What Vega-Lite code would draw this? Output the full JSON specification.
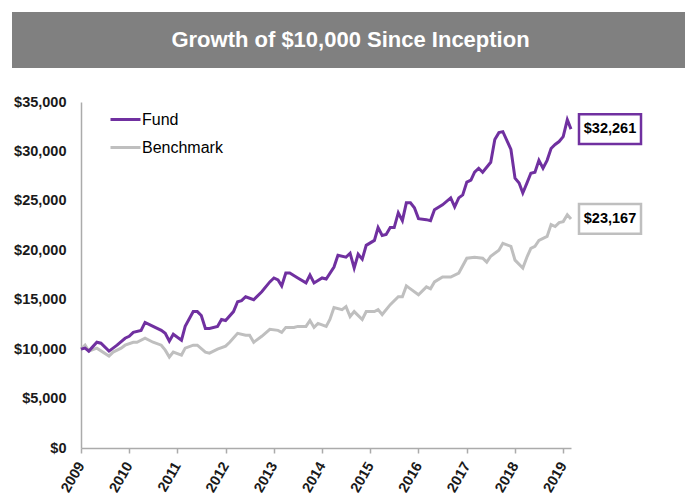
{
  "$schema": "https://vega.github.io/schema/vega-lite/v6.json",
  "padding": {"left": 12, "top": 12, "right": 0, "bottom": 0},
  "spacing": 26,
  "background": "white",
  "config": {"view": {"stroke": null}, "font": "Liberation Sans"},
  "resolve": {"scale": {"color": "independent", "stroke": "independent"}, "legend": {"color": "independent", "stroke": "independent"}},
  "vconcat": [
    {
      "width": 673,
      "height": 56,
      "view": {"fill": "#808080", "stroke": null},
      "data": {"values": [{"t": "Growth of $10,000 Since Inception"}]},
      "mark": {"type": "text", "font": "Liberation Sans", "fontWeight": "bold", "fontSize": 22, "color": "white", "align": "center", "baseline": "middle", "xOffset": 2},
      "encoding": {"text": {"field": "t", "type": "nominal"}}
    },
    {
      "spacing": 0,
      "resolve": {"scale": {"color": "independent", "stroke": "independent", "x": "independent", "y": "independent"}, "legend": {"color": "independent", "stroke": "independent"}},
      "hconcat": [
        {
          "width": 1,
          "height": 1,
          "data": {"values": []},
          "mark": "rect"
        },
        {
          "width": 490,
          "height": 346,
          "data": {
            "format": {"parse": {"d": "date"}},
            "values": [
              {"s":"Benchmark","d":"2009-01-01","v":10000},{"s":"Benchmark","d":"2009-02-01","v":10400},{"s":"Benchmark","d":"2009-03-01","v":9800},{"s":"Benchmark","d":"2009-05-01","v":10100},{"s":"Benchmark","d":"2009-08-01","v":9300},{"s":"Benchmark","d":"2009-09-01","v":9700},{"s":"Benchmark","d":"2009-11-01","v":10100},{"s":"Benchmark","d":"2009-12-01","v":10400},
              {"s":"Benchmark","d":"2010-02-01","v":10700},{"s":"Benchmark","d":"2010-03-01","v":10700},{"s":"Benchmark","d":"2010-05-01","v":11100},{"s":"Benchmark","d":"2010-07-01","v":10700},{"s":"Benchmark","d":"2010-09-01","v":10400},{"s":"Benchmark","d":"2010-10-01","v":9900},{"s":"Benchmark","d":"2010-11-01","v":9200},{"s":"Benchmark","d":"2010-12-01","v":9700},
              {"s":"Benchmark","d":"2011-02-01","v":9400},{"s":"Benchmark","d":"2011-03-01","v":10100},{"s":"Benchmark","d":"2011-05-01","v":10400},{"s":"Benchmark","d":"2011-06-01","v":10400},{"s":"Benchmark","d":"2011-08-01","v":9700},{"s":"Benchmark","d":"2011-09-01","v":9600},{"s":"Benchmark","d":"2011-11-01","v":10000},
              {"s":"Benchmark","d":"2012-01-01","v":10300},{"s":"Benchmark","d":"2012-02-01","v":10700},{"s":"Benchmark","d":"2012-04-01","v":11600},{"s":"Benchmark","d":"2012-06-01","v":11400},{"s":"Benchmark","d":"2012-07-01","v":11400},{"s":"Benchmark","d":"2012-08-01","v":10700},{"s":"Benchmark","d":"2012-10-01","v":11300},{"s":"Benchmark","d":"2012-12-01","v":12000},
              {"s":"Benchmark","d":"2013-02-01","v":11900},{"s":"Benchmark","d":"2013-03-01","v":11700},{"s":"Benchmark","d":"2013-04-01","v":12200},{"s":"Benchmark","d":"2013-06-01","v":12200},{"s":"Benchmark","d":"2013-07-01","v":12300},{"s":"Benchmark","d":"2013-09-01","v":12300},{"s":"Benchmark","d":"2013-10-01","v":12900},{"s":"Benchmark","d":"2013-11-01","v":12200},{"s":"Benchmark","d":"2013-12-01","v":12600},
              {"s":"Benchmark","d":"2014-02-01","v":12300},{"s":"Benchmark","d":"2014-03-01","v":13000},{"s":"Benchmark","d":"2014-04-01","v":14200},{"s":"Benchmark","d":"2014-06-01","v":14000},{"s":"Benchmark","d":"2014-07-01","v":14300},{"s":"Benchmark","d":"2014-08-01","v":13300},{"s":"Benchmark","d":"2014-09-01","v":13800},{"s":"Benchmark","d":"2014-11-01","v":13000},{"s":"Benchmark","d":"2014-12-01","v":13800},
              {"s":"Benchmark","d":"2015-02-01","v":13800},{"s":"Benchmark","d":"2015-03-01","v":14000},{"s":"Benchmark","d":"2015-04-01","v":13500},{"s":"Benchmark","d":"2015-06-01","v":14500},{"s":"Benchmark","d":"2015-08-01","v":15300},{"s":"Benchmark","d":"2015-09-01","v":15300},{"s":"Benchmark","d":"2015-10-01","v":16400},{"s":"Benchmark","d":"2015-11-01","v":16100},
              {"s":"Benchmark","d":"2016-01-01","v":15500},{"s":"Benchmark","d":"2016-03-01","v":16300},{"s":"Benchmark","d":"2016-04-01","v":16100},{"s":"Benchmark","d":"2016-05-01","v":16800},{"s":"Benchmark","d":"2016-07-01","v":17300},{"s":"Benchmark","d":"2016-09-01","v":17300},{"s":"Benchmark","d":"2016-11-01","v":17700},
              {"s":"Benchmark","d":"2017-01-01","v":19200},{"s":"Benchmark","d":"2017-03-01","v":19300},{"s":"Benchmark","d":"2017-05-01","v":19200},{"s":"Benchmark","d":"2017-06-01","v":18800},{"s":"Benchmark","d":"2017-07-01","v":19400},{"s":"Benchmark","d":"2017-09-01","v":20000},{"s":"Benchmark","d":"2017-10-01","v":20700},{"s":"Benchmark","d":"2017-12-01","v":20400},
              {"s":"Benchmark","d":"2018-01-01","v":19000},{"s":"Benchmark","d":"2018-03-01","v":18200},{"s":"Benchmark","d":"2018-04-01","v":19300},{"s":"Benchmark","d":"2018-05-01","v":20200},{"s":"Benchmark","d":"2018-06-01","v":20400},{"s":"Benchmark","d":"2018-07-01","v":21000},{"s":"Benchmark","d":"2018-09-01","v":21400},{"s":"Benchmark","d":"2018-10-01","v":22600},{"s":"Benchmark","d":"2018-11-01","v":22400},{"s":"Benchmark","d":"2018-12-01","v":22800},
              {"s":"Benchmark","d":"2019-01-01","v":22900},{"s":"Benchmark","d":"2019-02-01","v":23600},{"s":"Benchmark","d":"2019-03-01","v":23167},
              {"s":"Fund","d":"2009-01-01","v":10000},{"s":"Fund","d":"2009-02-01","v":10100},{"s":"Fund","d":"2009-03-01","v":9800},{"s":"Fund","d":"2009-05-01","v":10700},{"s":"Fund","d":"2009-06-01","v":10600},{"s":"Fund","d":"2009-08-01","v":9800},{"s":"Fund","d":"2009-09-01","v":10100},{"s":"Fund","d":"2009-10-01","v":10400},{"s":"Fund","d":"2009-12-01","v":11100},
              {"s":"Fund","d":"2010-01-01","v":11300},{"s":"Fund","d":"2010-02-01","v":11700},{"s":"Fund","d":"2010-04-01","v":11900},{"s":"Fund","d":"2010-05-01","v":12700},{"s":"Fund","d":"2010-07-01","v":12300},{"s":"Fund","d":"2010-09-01","v":11900},{"s":"Fund","d":"2010-10-01","v":11600},{"s":"Fund","d":"2010-11-01","v":10800},{"s":"Fund","d":"2010-12-01","v":11500},
              {"s":"Fund","d":"2011-02-01","v":10900},{"s":"Fund","d":"2011-03-01","v":12300},{"s":"Fund","d":"2011-05-01","v":13800},{"s":"Fund","d":"2011-06-01","v":13800},{"s":"Fund","d":"2011-07-01","v":13400},{"s":"Fund","d":"2011-08-01","v":12100},{"s":"Fund","d":"2011-09-01","v":12100},{"s":"Fund","d":"2011-11-01","v":12300},{"s":"Fund","d":"2011-12-01","v":13000},
              {"s":"Fund","d":"2012-01-01","v":12900},{"s":"Fund","d":"2012-03-01","v":13800},{"s":"Fund","d":"2012-04-01","v":14800},{"s":"Fund","d":"2012-05-01","v":14900},{"s":"Fund","d":"2012-06-01","v":15300},{"s":"Fund","d":"2012-08-01","v":15000},{"s":"Fund","d":"2012-10-01","v":15800},{"s":"Fund","d":"2012-12-01","v":16800},
              {"s":"Fund","d":"2013-01-01","v":17200},{"s":"Fund","d":"2013-02-01","v":17000},{"s":"Fund","d":"2013-03-01","v":16400},{"s":"Fund","d":"2013-04-01","v":17700},{"s":"Fund","d":"2013-05-01","v":17700},{"s":"Fund","d":"2013-07-01","v":17200},{"s":"Fund","d":"2013-09-01","v":16700},{"s":"Fund","d":"2013-10-01","v":17500},{"s":"Fund","d":"2013-11-01","v":16700},
              {"s":"Fund","d":"2014-01-01","v":17200},{"s":"Fund","d":"2014-02-01","v":17100},{"s":"Fund","d":"2014-04-01","v":18300},{"s":"Fund","d":"2014-05-01","v":19500},{"s":"Fund","d":"2014-07-01","v":19300},{"s":"Fund","d":"2014-08-01","v":19700},{"s":"Fund","d":"2014-09-01","v":18200},{"s":"Fund","d":"2014-10-01","v":19600},{"s":"Fund","d":"2014-11-01","v":19100},{"s":"Fund","d":"2014-12-01","v":20500},
              {"s":"Fund","d":"2015-02-01","v":21000},{"s":"Fund","d":"2015-03-01","v":22300},{"s":"Fund","d":"2015-04-01","v":21500},{"s":"Fund","d":"2015-05-01","v":21600},{"s":"Fund","d":"2015-06-01","v":22300},{"s":"Fund","d":"2015-07-01","v":22300},{"s":"Fund","d":"2015-08-01","v":23800},{"s":"Fund","d":"2015-09-01","v":23000},{"s":"Fund","d":"2015-10-01","v":24800},{"s":"Fund","d":"2015-11-01","v":24800},{"s":"Fund","d":"2015-12-01","v":24300},
              {"s":"Fund","d":"2016-01-01","v":23200},{"s":"Fund","d":"2016-03-01","v":23100},{"s":"Fund","d":"2016-04-01","v":23000},{"s":"Fund","d":"2016-05-01","v":24100},{"s":"Fund","d":"2016-07-01","v":24600},{"s":"Fund","d":"2016-09-01","v":25300},{"s":"Fund","d":"2016-10-01","v":24400},{"s":"Fund","d":"2016-11-01","v":25300},{"s":"Fund","d":"2016-12-01","v":25600},
              {"s":"Fund","d":"2017-01-01","v":26900},{"s":"Fund","d":"2017-02-01","v":27100},{"s":"Fund","d":"2017-03-01","v":27900},{"s":"Fund","d":"2017-04-01","v":28300},{"s":"Fund","d":"2017-05-01","v":27900},{"s":"Fund","d":"2017-07-01","v":28900},{"s":"Fund","d":"2017-08-01","v":31200},{"s":"Fund","d":"2017-09-01","v":31900},{"s":"Fund","d":"2017-10-01","v":32000},{"s":"Fund","d":"2017-12-01","v":30200},
              {"s":"Fund","d":"2018-01-01","v":27300},{"s":"Fund","d":"2018-02-01","v":26800},{"s":"Fund","d":"2018-03-01","v":25800},{"s":"Fund","d":"2018-04-01","v":26800},{"s":"Fund","d":"2018-05-01","v":27800},{"s":"Fund","d":"2018-06-01","v":27900},{"s":"Fund","d":"2018-07-01","v":29100},{"s":"Fund","d":"2018-08-01","v":28300},{"s":"Fund","d":"2018-09-01","v":29100},{"s":"Fund","d":"2018-10-01","v":30300},{"s":"Fund","d":"2018-11-01","v":30700},{"s":"Fund","d":"2018-12-01","v":31000},
              {"s":"Fund","d":"2019-01-01","v":31500},{"s":"Fund","d":"2019-02-01","v":33200},{"s":"Fund","d":"2019-03-01","v":32261}
            ]
          },
          "encoding": {
            "x": {
              "field": "d", "type": "temporal",
              "scale": {"domain": [{"year": 2009, "month": 1, "date": 1}, {"year": 2019, "month": 3, "date": 1}]},
              "axis": {
                "title": null, "grid": false, "format": "%Y",
                "tickCount": {"interval": "year", "step": 1},
                "tickSize": 5, "tickColor": "#ABABAB", "domainColor": "#ABABAB", "domainWidth": 1.5, "tickWidth": 1.5,
                "labelAngle": -60, "labelAlign": "right", "labelBaseline": "middle",
                "labelFont": "Liberation Sans", "labelFontSize": 14.5, "labelFontWeight": "bold", "labelColor": "#1a1a1a",
                "labelPadding": 10, "labelOverlap": false, "labelFlush": false
              }
            },
            "y": {
              "field": "v", "type": "quantitative",
              "scale": {"domain": [0, 35000]},
              "axis": {
                "title": null, "grid": false, "format": "$,.0f",
                "values": [0, 5000, 10000, 15000, 20000, 25000, 30000, 35000],
                "ticks": false, "tickSize": 0, "domainColor": "#ABABAB", "domainWidth": 1.5,
                "labelFont": "Liberation Sans", "labelFontSize": 14.5, "labelFontWeight": "bold", "labelColor": "#1a1a1a",
                "labelPadding": 15, "minExtent": 66, "maxExtent": 66
              }
            }
          },
          "layer": [
            {
              "mark": {"type": "line", "strokeWidth": 3},
              "encoding": {
                "color": {
                  "field": "s", "type": "nominal",
                  "scale": {"domain": ["Fund", "Benchmark"], "range": ["#7030A0", "#BFBFBF"]},
                  "legend": {
                    "title": null, "orient": "none", "legendX": 33, "legendY": 6,
                    "symbolType": "M-1.5,0H1.5", "symbolSize": 400, "symbolStrokeWidth": 3,
                    "labelFont": "Liberation Sans", "labelFontSize": 16, "labelColor": "#000000",
                    "labelOffset": 5, "rowPadding": 8
                  }
                }
              }
            },
            {
              "transform": [
                {"joinaggregate": [{"op": "max", "field": "d", "as": "last"}], "groupby": ["s"]},
                {"filter": "time(datum.d) == time(datum.last)"}
              ],
              "mark": {"type": "point", "shape": "M-1,-0.48H1V0.48H-1Z", "size": 3844, "filled": true, "fill": "white", "opacity": 1, "strokeWidth": 2.5, "xOffset": 39},
              "encoding": {
                "stroke": {
                  "field": "s", "type": "nominal",
                  "scale": {"domain": ["Fund", "Benchmark"], "range": ["#7030A0", "#BFBFBF"]},
                  "legend": null
                }
              }
            },
            {
              "transform": [
                {"joinaggregate": [{"op": "max", "field": "d", "as": "last"}], "groupby": ["s"]},
                {"filter": "time(datum.d) == time(datum.last)"}
              ],
              "mark": {"type": "text", "xOffset": 39, "font": "Liberation Sans", "fontSize": 14.5, "fontWeight": "bold", "color": "#000000", "align": "center", "baseline": "middle"},
              "encoding": {
                "text": {"field": "v", "type": "quantitative", "format": "$,.0f"}
              }
            }
          ]
        }
      ]
    }
  ]
}
